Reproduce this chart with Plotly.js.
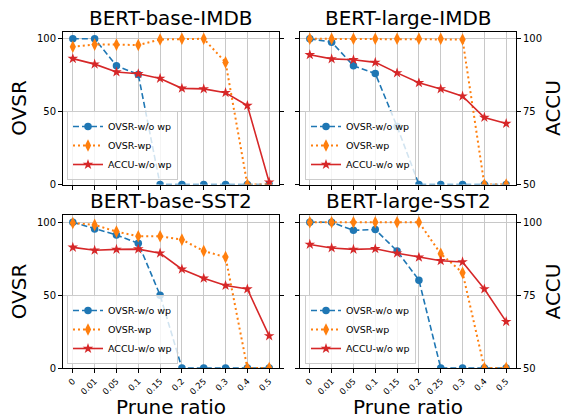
<!DOCTYPE html>
<html><head><meta charset="utf-8">
<script src="https://cdn.plot.ly/plotly-3.0.1.min.js"></script>
<style>body{margin:0;background:#fff}</style>
</head><body><div id="chart" style="width:572px;height:419px"></div>
<script>
const ratios = ["0","0.01","0.05","0.1","0.15","0.2","0.25","0.3","0.4","0.5"];
const panelTitles = ["BERT-base-IMDB","BERT-large-IMDB","BERT-base-SST2","BERT-large-SST2"];
const seriesNames = ["OVSR-w/o wp","OVSR-wp","ACCU-w/o wp"];

const ovsrNoWp_baseIMDB  = [100,100,81.5,75.5,0,0,0,0,0,0];
const ovsrWp_baseIMDB    = [94.5,96,96,95.7,99.5,100,100,83.8,0,0];
const accu_baseIMDB      = [93.2,91.3,88.6,88.0,86.4,83.0,82.8,81.5,77.1,50.8];

const ovsrNoWp_largeIMDB = [100,97.7,81.5,76.2,39.8,0,0,0,0,0];
const ovsrWp_largeIMDB   = [100,100,100,100,100,100,100,99.5,0,0];
const accu_largeIMDB     = [94.5,93.1,92.8,91.9,88.3,84.9,82.8,80.3,73.0,70.9];

const ovsrNoWp_baseSST2  = [100,95.4,91.3,85.6,50.0,0,0,0,0,0];
const ovsrWp_baseSST2    = [99.5,98.2,93.6,90.4,90.4,88.1,80.3,76.1,0,0];
const accu_baseSST2      = [91.4,90.4,90.7,90.8,89.4,83.9,80.8,78.3,77.1,61.0];

const ovsrNoWp_largeSST2 = [100,100,94.5,95.0,80.3,60.3,0,0,0,0];
const ovsrWp_largeSST2   = [100,100,100,100,100,100,78.4,65.4,0,0];
const accu_largeSST2     = [92.4,91.2,90.7,90.9,89.4,88.0,86.8,86.4,77.1,65.9];

const panelData = [
  [ovsrNoWp_baseIMDB, ovsrWp_baseIMDB, accu_baseIMDB],
  [ovsrNoWp_largeIMDB, ovsrWp_largeIMDB, accu_largeIMDB],
  [ovsrNoWp_baseSST2, ovsrWp_baseSST2, accu_baseSST2],
  [ovsrNoWp_largeSST2, ovsrWp_largeSST2, accu_largeSST2]
];

const W = 572, H = 419;
const FONT = "DejaVu Sans, sans-serif";
const xDomains = [[63/W, 279/W], [300/W, 516/W]];
const yDomains = [[(H-184.5)/H, (H-31.5)/H], [(H-368)/H, (H-215)/H]];

const colors = ["#1f77b4", "#ff7f0e", "#d62728"];
const traces = [];
const layout = {
  width: W, height: H,
  margin: {l:0, r:0, t:0, b:0},
  paper_bgcolor: "#fff", plot_bgcolor: "#fff",
  font: {family: FONT, color: "#000", size: 10},
  showlegend: true,
  annotations: []
};

for (let p = 0; p < 4; p++) {
  const col = p % 2, row = Math.floor(p / 2);
  const xa = "x" + (p === 0 ? "" : p + 1);
  const ya1n = 2*p + 1, ya2n = 2*p + 2;
  const ya1 = "y" + (ya1n === 1 ? "" : ya1n);
  const ya2 = "y" + ya2n;
  const legName = "legend" + (p === 0 ? "" : p + 1);
  const [d0, d1, d2] = panelData[p];

  traces.push({
    x: ratios, y: d0, xaxis: xa, yaxis: ya1, name: seriesNames[0], legend: legName,
    type: "scatter", mode: "lines+markers",
    line: {color: colors[0], width: 1.6, dash: "6px,3px"},
    marker: {symbol: "circle", size: 7.5, color: colors[0]}
  });
  traces.push({
    x: ratios, y: d1, xaxis: xa, yaxis: ya1, name: seriesNames[1], legend: legName,
    type: "scatter", mode: "lines+markers",
    line: {color: colors[1], width: 2, dash: "2px,3px"},
    marker: {symbol: "diamond-tall", size: 9, color: colors[1]}
  });
  traces.push({
    x: ratios, y: d2, xaxis: xa, yaxis: ya2, name: seriesNames[2], legend: legName,
    type: "scatter", mode: "lines+markers",
    line: {color: colors[2], width: 1.6},
    marker: {symbol: "star", size: 8, color: colors[2]}
  });

  const xKey = "xaxis" + (p === 0 ? "" : p + 1);
  layout[xKey] = {
    type: "category", domain: xDomains[col], anchor: ya1, range: [-0.45, 9.45],
    showline: true, mirror: true, linecolor: "#000", linewidth: 1,
    ticks: "outside", ticklen: 4, tickwidth: 1, tickcolor: "#000",
    showgrid: true, gridcolor: "#c8c8c8", gridwidth: 1,
    zeroline: false, fixedrange: true,
    showticklabels: row === 1, tickangle: -45, tickfont: {size: 8.5, family: FONT},
    title: row === 1 ? {text: "Prune ratio", font: {size: 20, family: FONT}, standoff: 0} : {text: ""},
    automargin: false
  };
  layout["yaxis" + (ya1n === 1 ? "" : ya1n)] = {
    domain: yDomains[row], anchor: xa, range: [0, 105],
    tickvals: [0, 50, 100], ticktext: ["0","50","100"],
    showline: true, linecolor: "#000", linewidth: 1,
    ticks: "outside", ticklen: 4, tickwidth: 1, tickcolor: "#000",
    showgrid: true, gridcolor: "#c8c8c8", gridwidth: 1, zeroline: false,
    showticklabels: col === 0, tickfont: {size: 10, family: FONT},
    title: col === 0 ? {text: "OVSR", font: {size: 20, family: FONT}, standoff: 4} : {text: ""},
    automargin: false, fixedrange: true
  };
  layout["yaxis" + ya2n] = {
    overlaying: ya1, side: "right", anchor: xa, range: [50, 102.5],
    tickvals: [50, 75, 100], ticktext: ["50","75","100"],
    showline: true, linecolor: "#000", linewidth: 1,
    ticks: "outside", ticklen: 4, tickwidth: 1, tickcolor: "#000",
    showgrid: false, zeroline: false,
    showticklabels: col === 1, tickfont: {size: 10, family: FONT},
    title: col === 1 ? {text: "ACCU", font: {size: 20, family: FONT}, standoff: 4} : {text: ""},
    automargin: false, fixedrange: true
  };

  const legX = (col === 0 ? 67 : 305) / W;
  const legY = (H - (row === 0 ? 180 : 364)) / H;
  layout[legName] = {
    x: legX, y: legY, xanchor: "left", yanchor: "bottom",
    bgcolor: "rgba(255,255,255,0.8)", bordercolor: "#cccccc", borderwidth: 1,
    font: {size: 9.5, family: FONT}, traceorder: "normal",
    tracegroupgap: 0, itemwidth: 30
  };

  layout.annotations.push({
    text: panelTitles[p], xref: "paper", yref: "paper",
    x: (xDomains[col][0] + xDomains[col][1]) / 2,
    y: (H - (row === 0 ? 18 : 201)) / H,
    xanchor: "center", yanchor: "middle", showarrow: false,
    font: {size: 20, family: FONT, color: "#000"}
  });
}

Plotly.newPlot("chart", traces, layout, {staticPlot: true, displayModeBar: false});
</script>
</body></html>
